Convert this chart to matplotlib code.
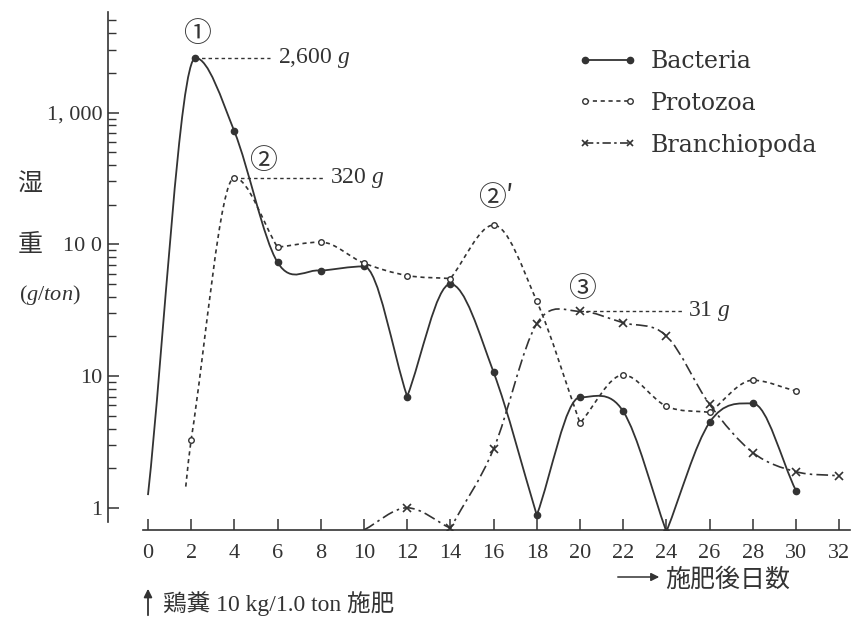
import numpy as np
import matplotlib
matplotlib.use("Agg")
import matplotlib.pyplot as plt
from matplotlib.path import Path
from matplotlib.patches import PathPatch, FancyArrowPatch
from matplotlib.lines import Line2D
from matplotlib.ticker import FixedLocator, NullFormatter

plt.rcParams['font.family'] = ['Liberation Serif', 'Noto Sans CJK JP', 'DejaVu Sans']
plt.rcParams['mathtext.fontset'] = 'custom'
plt.rcParams['mathtext.rm'] = 'Liberation Serif'
plt.rcParams['mathtext.it'] = 'Liberation Serif:italic'

INK = '#333333'
CJK = ['Noto Sans CJK JP', 'DejaVu Sans']

# wet weight (g/ton) by days after manuring
bact_days = [0, 2.2, 4, 6, 8, 10, 12, 14, 16, 18, 20, 22, 24, 26, 28, 30]
bact_vals = [1.25, 2600, 720, 73, 63, 68, 7.0, 50, 10.7, 0.88, 6.9, 5.4, 0.66, 4.45, 6.2, 1.35]

proto_days = [1.75, 2, 4, 6, 8, 10, 12, 14, 16, 18, 20, 22, 24, 26, 28, 30]
proto_vals = [1.45, 3.3, 320, 95, 104, 72, 58, 55, 140, 37, 4.4, 10.2, 5.9, 5.3, 9.3, 7.7]

bran_days = [10, 12, 14, 16, 18, 20, 22, 24, 26, 28, 30, 32]
bran_vals = [0.68, 1.0, 0.70, 2.8, 25, 31, 25.4, 20.2, 6.1, 2.63, 1.88, 1.75]

x_ticks = list(range(0, 33, 2))
y_ticks = [1, 10, 100, 1000]
y_ticklabels = ['1', '10', '10 0', '1, 000']
y_minor = [m * 10 ** k for k in range(4) for m in range(2, 10) if m * 10 ** k <= 5800]


def smooth_path(xs, ys):
    # cubic Hermite pieces in log space: round tops, sharp bottoms
    x = np.asarray(xs, float)
    y = np.log10(np.asarray(ys, float))
    d = np.diff(y) / np.diff(x)
    n = len(x)
    m_in = np.zeros(n)
    m_out = np.zeros(n)
    for i in range(n):
        if i == 0:
            m_in[i] = m_out[i] = d[0]
        elif i == n - 1:
            m_in[i] = m_out[i] = d[-1]
        elif y[i] >= y[i - 1] and y[i] >= y[i + 1]:
            m_in[i] = m_out[i] = 0.0
        elif y[i] <= y[i - 1] and y[i] <= y[i + 1]:
            m_in[i], m_out[i] = d[i - 1], d[i]
        else:
            m_in[i] = m_out[i] = (y[i + 1] - y[i - 1]) / (x[i + 1] - x[i - 1])
    verts = [(x[0], y[0])]
    codes = [Path.MOVETO]
    for i in range(n - 1):
        h = x[i + 1] - x[i]
        verts += [(x[i] + h / 3, y[i] + m_out[i] * h / 3),
                  (x[i + 1] - h / 3, y[i + 1] - m_in[i + 1] * h / 3),
                  (x[i + 1], y[i + 1])]
        codes += [Path.CURVE4] * 3
    v = np.array(verts)
    v[:, 1] = 10 ** v[:, 1]
    return Path(v, codes)


fig = plt.figure(figsize=(8.56, 6.26), dpi=100)
fig.patch.set_facecolor('white')
ax = fig.add_axes([108 / 856, 1 - 530 / 626, (850 - 108) / 856, (530 - 12) / 626])
ax.set_yscale('log')
ax.set_xlim(-1.85, 32.5)
ax.set_ylim(0.679, 5800)

DOT = (0, (2.5, 2.2))
DASHDOT = (0, (7, 2.5, 1.5, 2.5))
series = [
    (bact_days, bact_vals, '-', 1.3, dict(marker='o', ms=4.5, mfc=INK, mec=INK)),
    (proto_days, proto_vals, DOT, 1.2, dict(marker='o', ms=4, mfc='white', mec=INK, mew=1.0)),
    (bran_days, bran_vals, DASHDOT, 1.2, dict(marker='x', ms=5.5, mec=INK, mew=1.2)),
]
for xs, ys, ls, lw, mk in series:
    ax.add_patch(PathPatch(smooth_path(xs, ys), fill=False, ec=INK, lw=lw, ls=ls, zorder=2))
    # first point of each curve is only where the line starts
    ax.plot(xs[1:], ys[1:], ls='none', zorder=3, **mk)

# axes
for s in ('top', 'right'):
    ax.spines[s].set_visible(False)
ax.spines['left'].set_bounds(0.78, 5800)
ax.spines['bottom'].set_bounds(-0.23, 32.5)
for s in ('left', 'bottom'):
    ax.spines[s].set_color(INK)
    ax.spines[s].set_linewidth(1.2)
ax.set_xticks(x_ticks)
ax.set_xticklabels([str(t) for t in x_ticks])
ax.set_yticks(y_ticks)
ax.set_yticklabels(y_ticklabels)
ax.yaxis.set_minor_locator(FixedLocator(y_minor))
ax.yaxis.set_minor_formatter(NullFormatter())
ax.tick_params(axis='x', direction='in', length=8, width=1.1, color=INK, labelsize=16,
               labelcolor=INK, pad=10)
ax.tick_params(axis='y', which='major', direction='in', length=8, width=1.1, color=INK,
               labelsize=16, labelcolor=INK, pad=4)
ax.tick_params(axis='y', which='minor', direction='in', length=6, width=1.0, color=INK)
ax.set_facecolor('none')

# peak annotations
leaders = [
    (2.2, 2600, 5.65, 6.0, '2,600 $g$'),
    (4, 320, 8.2, 8.45, '320 $g$'),
    (20, 31, 24.8, 25.0, '31 $g$'),
]
for x0, y0, x1, xt, label in leaders:
    ax.plot([x0, x1], [y0, y0], color=INK, lw=1.0, ls=DOT, zorder=1)
    ax.text(xt, y0, label, fontsize=17, color=INK, va='center', ha='left')

marks = [(2.27, 3940, '①'), (5.3, 430, '②'), (16.1, 224, '②′'), (20.1, 46, '③')]
for x0, y0, label in marks:
    ax.text(x0, y0, label, fontsize=20, color=INK, ha='center', va='center', family=CJK)

# legend
handles = [
    Line2D([], [], color=INK, lw=1.3, ls='-', marker='o', ms=4.5, mfc=INK, mec=INK),
    Line2D([], [], color=INK, lw=1.2, ls=DOT, marker='o', ms=4, mfc='white', mec=INK),
    Line2D([], [], color=INK, lw=1.2, ls=(0, (5, 2, 1.5, 2)), marker='x', ms=5, mec=INK, mew=1.2),
]
leg = ax.legend(handles, ['Bacteria', 'Protozoa', 'Branchiopoda'], numpoints=2,
                loc='upper left', bbox_to_anchor=(566 / 856, 1 - 38 / 626),
                bbox_transform=fig.transFigure, frameon=False, handlelength=2.5,
                handletextpad=0.6, labelspacing=0.8, borderpad=0,
                prop={'family': 'DejaVu Serif', 'size': 17})
for t in leg.get_texts():
    t.set_color(INK)

# y label
fig.text(30 / 856, 1 - 185 / 626, '湿', fontsize=18, color=INK, ha='center', va='center', family=CJK)
fig.text(30 / 856, 1 - 245 / 626, '重', fontsize=18, color=INK, ha='center', va='center', family=CJK)
fig.text(50 / 856, 1 - 295 / 626, '($g$/$ton$)', fontsize=16, color=INK, ha='center', va='center')

# x notes
fig.text(665 / 856, 1 - 580 / 626, '施肥後日数', fontsize=18, color=INK, ha='left', va='center', family=CJK)
fig.add_artist(FancyArrowPatch((615 / 856, 1 - 577 / 626), (662 / 856, 1 - 577 / 626),
                               transform=fig.transFigure, arrowstyle='-|>',
                               mutation_scale=12, color=INK, lw=1.1))
fig.add_artist(FancyArrowPatch((148 / 856, 1 - 618 / 626), (148 / 856, 1 - 586 / 626),
                               transform=fig.transFigure, arrowstyle='-|>',
                               mutation_scale=12, color=INK, lw=1.3))
fig.text(163 / 856, 1 - 604 / 626, '鶏糞 10 kg/1.0 ton 施肥', fontsize=17, color=INK,
         ha='left', va='center')

fig.savefig('out.png', dpi=100, facecolor='white')
